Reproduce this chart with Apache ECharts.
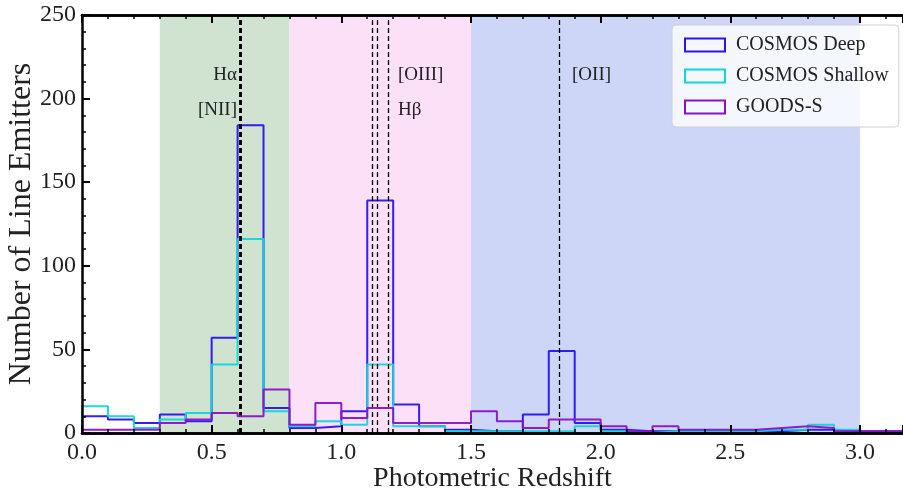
<!DOCTYPE html>
<html>
<head>
<meta charset="utf-8">
<script src="https://cdn.jsdelivr.net/npm/echarts@6/dist/echarts.min.js"></script>
<style>
  html, body { margin: 0; padding: 0; background: #fff; }
  #chart { width: 903px; height: 490px; }
</style>
</head>
<body>
<div id="chart"></div>
<script>
// histogram bins, width 0.1, left edges from 0.0
const binStart = 0.0
const binWidth = 0.1
const cosmosDeep    = [10, 8, 6, 11, 7, 57, 184, 15, 3, 4, 13, 139, 17, 4, 2, 1, 1, 11, 49, 6, 2, 1, 1, 1, 1, 1, 1, 2, 2, 1, 1, 1]
const cosmosShallow = [16, 10, 3, 8, 12, 41, 116, 13, 4, 7, 5, 41, 4, 4, 1, 1, 1, 1, 1, 4, 1, 0, 1, 1, 1, 1, 2, 2, 5, 2, 0, 0]
const goodsS        = [2, 2, 2, 6, 8, 12, 10, 26, 5, 18, 9, 15, 6, 6, 6, 13, 7, 3, 8, 8, 4, 1, 4, 2, 2, 2, 3, 4, 3, 1, 1, 1]

// shaded redshift windows
const bandRanges = [[0.3, 0.8], [0.8, 1.5], [1.5, 3.0]]
const bandColors = ['#cfe3d0', '#fbe0f8', '#ced6f8']

// emission line redshifts
const nbLines = [0.6105, 0.6145, 1.117, 1.1375, 1.181, 1.844]
const nbLineWidth = [2.5, 2.5, 1.3, 1.3, 1.3, 1.3]

const seriesNames = ['COSMOS Deep', 'COSMOS Shallow', 'GOODS-S']
const seriesColors = ['#2a12f2', '#12d6d8', '#8a12c6']

const xTicks = [0, 0.5, 1.0, 1.5, 2.0, 2.5, 3.0]

function stepData(vals) {
  let pts = [[binStart, 0]]
  vals.forEach((v, i) => pts.push([+(binStart + i * binWidth).toFixed(2), v]))
  pts.push([+(binStart + vals.length * binWidth).toFixed(2), vals[vals.length - 1]])
  return pts
}

let chart = echarts.init(document.getElementById('chart'))
const serif = 'Liberation Serif'
const xMax = 3.166

function xAxisDef(pos, interval, len, width, labels) {
  return {
    type: 'value', position: pos, min: 0, max: xMax, interval: interval, z: 10,
    axisLine: {show: true, onZero: false, lineStyle: {color: '#000', width: 2.5}},
    axisTick: {show: true, inside: true, length: len, lineStyle: {color: '#000', width: width}},
    splitLine: {show: false},
    axisLabel: labels ? {
      show: true, margin: 8, color: '#222', fontFamily: serif, fontSize: 24,
      formatter: v => xTicks.some(t => Math.abs(t - v) < 1e-6) ? v.toFixed(1) : ''
    } : {show: false},
    name: labels ? 'Photometric Redshift' : '',
    nameLocation: 'middle', nameGap: 32, nameMoveOverlap: false,
    nameTextStyle: {fontFamily: serif, fontSize: 28, color: '#222'}
  }
}

let series = seriesNames.map((name, k) => ({
  name: name,
  type: 'line',
  step: 'end',
  xAxisIndex: 0,
  symbol: 'none',
  z: 3 + k,
  data: stepData([cosmosDeep, cosmosShallow, goodsS][k]),
  lineStyle: {color: seriesColors[k], width: 2, opacity: 0.95},
  itemStyle: {color: seriesColors[k]}
}))

// bands behind, dashed lines on top
series.unshift({
  type: 'line', data: [], z: 1, silent: true,
  markArea: {
    silent: true,
    data: bandRanges.map((r, i) => [
      {xAxis: r[0], yAxis: 0, itemStyle: {color: bandColors[i]}},
      {xAxis: r[1], yAxis: 250}
    ])
  }
})
series.push({
  type: 'line', data: [], z: 8, silent: true,
  markLine: {
    silent: true, symbol: 'none', label: {show: false},
    data: nbLines.map((x, i) => ({
      xAxis: x,
      lineStyle: {color: '#000', type: [5, 3], width: nbLineWidth[i]}
    }))
  }
})

const noteFont = '19px "Liberation Serif"'

let option = {
  animation: false,
  grid: {left: 82, right: 0, top: 15, bottom: 57, containLabel: false, outerBoundsMode: 'none'},
  xAxis: [
    xAxisDef('bottom', 0.5, 8, 2, true),
    xAxisDef('bottom', 0.1, 4, 1.5, false),
    xAxisDef('top', 0.5, 8, 2, false),
    xAxisDef('top', 0.1, 4, 1.5, false)
  ],
  yAxis: {
    type: 'value', min: 0, max: 250, interval: 50, z: 10,
    axisLine: {show: true, lineStyle: {color: '#000', width: 2.5}},
    axisTick: {show: true, inside: true, length: 8, lineStyle: {color: '#000', width: 2}},
    minorTick: {show: true, splitNumber: 5, length: 4, lineStyle: {color: '#000', width: 1.5}},
    splitLine: {show: false},
    axisLabel: {margin: 6, color: '#222', fontFamily: serif, fontSize: 24},
    name: 'Number of Line Emitters',
    nameLocation: 'middle', nameGap: 44, nameMoveOverlap: false,
    nameTextStyle: {fontFamily: serif, fontSize: 32, color: '#222'}
  },
  legend: {
    orient: 'vertical', left: 672, top: 25,
    padding: [10, 10, 10, 12], itemGap: 11,
    itemWidth: 40, itemHeight: 13,
    backgroundColor: 'rgba(255,255,255,0.8)',
    borderColor: '#d0d0d0', borderWidth: 1, borderRadius: 4,
    textStyle: {fontFamily: serif, fontSize: 20, color: '#222', padding: [0, 0, 0, 6]},
    data: seriesNames.map((n, k) => ({
      name: n, icon: 'rect',
      itemStyle: {color: 'rgba(255,255,255,0)', borderColor: seriesColors[k], borderWidth: 2}
    }))
  },
  graphic: [
    {type: 'text', z: 100, right: 903 - 237, top: 66, style: {text: 'Hα', font: noteFont, fill: '#222'}},
    {type: 'text', z: 100, right: 903 - 237, top: 101, style: {text: '[NII]', font: noteFont, fill: '#222'}},
    {type: 'text', z: 100, left: 398, top: 66, style: {text: '[OIII]', font: noteFont, fill: '#222'}},
    {type: 'text', z: 100, left: 398, top: 101, style: {text: 'Hβ', font: noteFont, fill: '#222'}},
    {type: 'text', z: 100, left: 572, top: 66, style: {text: '[OII]', font: noteFont, fill: '#222'}}
  ],
  series: series
}
chart.setOption(option)
</script>
</body>
</html>
